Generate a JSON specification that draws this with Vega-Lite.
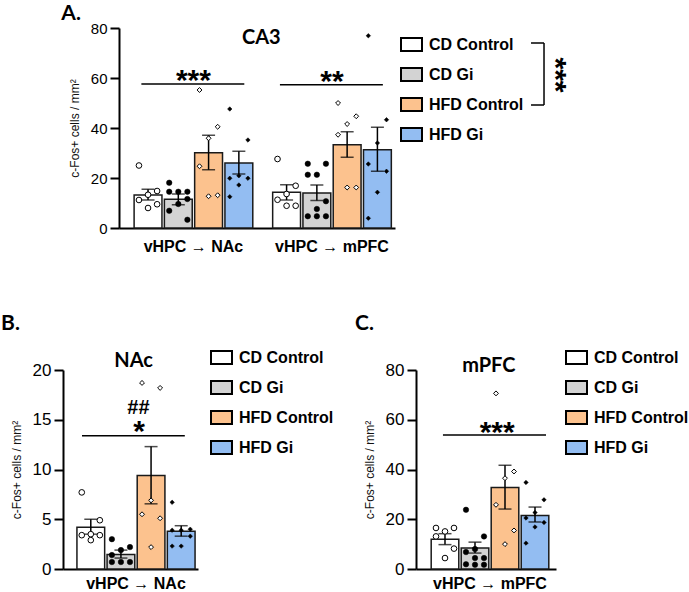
{
  "$schema": "https://vega.github.io/schema/vega-lite/v6.json",
  "padding": {"left": 1, "top": 3, "right": 0, "bottom": 0},
  "background": "white",
  "config": {
    "view": {"stroke": null},
    "font": "Liberation Sans",
    "axis": {"domainColor": "black", "domainWidth": 2, "tickColor": "black", "tickWidth": 2, "grid": false, "labelColor": "black", "titleColor": "#111111", "labelFont": "Liberation Sans", "titleFont": "Liberation Sans"},
    "axisY": {"tickSize": 9, "labelFontSize": 17, "labelPadding": 3, "titleFontSize": 12, "titleFontWeight": "normal", "titlePadding": 9},
    "axisX": {"ticks": false, "labelFontSize": 16, "labelFontWeight": "bold", "labelPadding": 8, "labelAngle": 0, "title": null},
    "legend": {"symbolType": "M-1,-0.62H1V0.62H-1Z", "symbolSize": 441, "symbolStrokeColor": "black", "symbolStrokeWidth": 2, "labelFont": "Liberation Sans", "labelFontSize": 16, "labelFontWeight": "bold", "labelColor": "black", "labelOffset": 6, "rowPadding": 7, "padding": 0},
    "title": {"font": "Lato", "fontSize": 21, "fontWeight": "bold", "anchor": "start", "frame": "bounds", "color": "black"}
  },
  "datasets": {
    "bars": [
      {"p": "A", "g": "vHPC → NAc", "c": "CD Control", "mean": 13.2, "lo": 11.2, "hi": 15.5},
      {"p": "A", "g": "vHPC → NAc", "c": "CD Gi", "mean": 11.5, "lo": 9.3, "hi": 13.6},
      {"p": "A", "g": "vHPC → NAc", "c": "HFD Control", "mean": 30.1, "lo": 23.3, "hi": 37.1},
      {"p": "A", "g": "vHPC → NAc", "c": "HFD Gi", "mean": 26.0, "lo": 21.6, "hi": 30.7},
      {"p": "A", "g": "vHPC → mPFC", "c": "CD Control", "mean": 14.3, "lo": 11.2, "hi": 17.3},
      {"p": "A", "g": "vHPC → mPFC", "c": "CD Gi", "mean": 14.0, "lo": 11.0, "hi": 17.2},
      {"p": "A", "g": "vHPC → mPFC", "c": "HFD Control", "mean": 33.3, "lo": 28.3, "hi": 38.5},
      {"p": "A", "g": "vHPC → mPFC", "c": "HFD Gi", "mean": 31.3, "lo": 22.7, "hi": 40.3},
      {"p": "B", "g": "vHPC → NAc", "c": "CD Control", "mean": 4.2, "lo": 3.5, "hi": 5.0},
      {"p": "B", "g": "vHPC → NAc", "c": "CD Gi", "mean": 1.45, "lo": 1.1, "hi": 1.9},
      {"p": "B", "g": "vHPC → NAc", "c": "HFD Control", "mean": 9.4, "lo": 6.55, "hi": 12.3},
      {"p": "B", "g": "vHPC → NAc", "c": "HFD Gi", "mean": 3.8, "lo": 3.3, "hi": 4.35},
      {"p": "C", "g": "vHPC → mPFC", "c": "CD Control", "mean": 12.0, "lo": 9.8, "hi": 14.2},
      {"p": "C", "g": "vHPC → mPFC", "c": "CD Gi", "mean": 8.4, "lo": 6.4, "hi": 10.8},
      {"p": "C", "g": "vHPC → mPFC", "c": "HFD Control", "mean": 32.8, "lo": 24.1, "hi": 41.7},
      {"p": "C", "g": "vHPC → mPFC", "c": "HFD Gi", "mean": 21.5, "lo": 18.9, "hi": 24.9}
    ],
    "points": [
      {"p": "A", "g": "vHPC → NAc", "c": "CD Control", "v": 25.0},
      {"p": "A", "g": "vHPC → NAc", "c": "CD Control", "v": 14.8},
      {"p": "A", "g": "vHPC → NAc", "c": "CD Control", "v": 13.3},
      {"p": "A", "g": "vHPC → NAc", "c": "CD Control", "v": 11.2},
      {"p": "A", "g": "vHPC → NAc", "c": "CD Control", "v": 9.5},
      {"p": "A", "g": "vHPC → NAc", "c": "CD Control", "v": 8.0},
      {"p": "A", "g": "vHPC → NAc", "c": "CD Gi", "v": 18.1},
      {"p": "A", "g": "vHPC → NAc", "c": "CD Gi", "v": 14.5},
      {"p": "A", "g": "vHPC → NAc", "c": "CD Gi", "v": 14.5},
      {"p": "A", "g": "vHPC → NAc", "c": "CD Gi", "v": 14.5},
      {"p": "A", "g": "vHPC → NAc", "c": "CD Gi", "v": 11.6},
      {"p": "A", "g": "vHPC → NAc", "c": "CD Gi", "v": 9.6},
      {"p": "A", "g": "vHPC → NAc", "c": "CD Gi", "v": 6.9},
      {"p": "A", "g": "vHPC → NAc", "c": "CD Gi", "v": 3.3},
      {"p": "A", "g": "vHPC → NAc", "c": "HFD Control", "v": 55.2},
      {"p": "A", "g": "vHPC → NAc", "c": "HFD Control", "v": 40.5},
      {"p": "A", "g": "vHPC → NAc", "c": "HFD Control", "v": 35.9},
      {"p": "A", "g": "vHPC → NAc", "c": "HFD Control", "v": 24.7},
      {"p": "A", "g": "vHPC → NAc", "c": "HFD Control", "v": 13.1},
      {"p": "A", "g": "vHPC → NAc", "c": "HFD Control", "v": 12.7},
      {"p": "A", "g": "vHPC → NAc", "c": "HFD Gi", "v": 47.6},
      {"p": "A", "g": "vHPC → NAc", "c": "HFD Gi", "v": 35.2},
      {"p": "A", "g": "vHPC → NAc", "c": "HFD Gi", "v": 20.9},
      {"p": "A", "g": "vHPC → NAc", "c": "HFD Gi", "v": 19.9},
      {"p": "A", "g": "vHPC → NAc", "c": "HFD Gi", "v": 19.9},
      {"p": "A", "g": "vHPC → NAc", "c": "HFD Gi", "v": 17.2},
      {"p": "A", "g": "vHPC → NAc", "c": "HFD Gi", "v": 12.5},
      {"p": "A", "g": "vHPC → mPFC", "c": "CD Control", "v": 27.6},
      {"p": "A", "g": "vHPC → mPFC", "c": "CD Control", "v": 16.9},
      {"p": "A", "g": "vHPC → mPFC", "c": "CD Control", "v": 13.6},
      {"p": "A", "g": "vHPC → mPFC", "c": "CD Control", "v": 11.3},
      {"p": "A", "g": "vHPC → mPFC", "c": "CD Control", "v": 8.9},
      {"p": "A", "g": "vHPC → mPFC", "c": "CD Control", "v": 8.9},
      {"p": "A", "g": "vHPC → mPFC", "c": "CD Gi", "v": 25.7},
      {"p": "A", "g": "vHPC → mPFC", "c": "CD Gi", "v": 25.7},
      {"p": "A", "g": "vHPC → mPFC", "c": "CD Gi", "v": 21.3},
      {"p": "A", "g": "vHPC → mPFC", "c": "CD Gi", "v": 21.3},
      {"p": "A", "g": "vHPC → mPFC", "c": "CD Gi", "v": 10.7},
      {"p": "A", "g": "vHPC → mPFC", "c": "CD Gi", "v": 7.6},
      {"p": "A", "g": "vHPC → mPFC", "c": "CD Gi", "v": 4.7},
      {"p": "A", "g": "vHPC → mPFC", "c": "CD Gi", "v": 4.7},
      {"p": "A", "g": "vHPC → mPFC", "c": "CD Gi", "v": 4.7},
      {"p": "A", "g": "vHPC → mPFC", "c": "HFD Control", "v": 50.0},
      {"p": "A", "g": "vHPC → mPFC", "c": "HFD Control", "v": 44.7},
      {"p": "A", "g": "vHPC → mPFC", "c": "HFD Control", "v": 41.6},
      {"p": "A", "g": "vHPC → mPFC", "c": "HFD Control", "v": 37.3},
      {"p": "A", "g": "vHPC → mPFC", "c": "HFD Control", "v": 16.2},
      {"p": "A", "g": "vHPC → mPFC", "c": "HFD Control", "v": 16.2},
      {"p": "A", "g": "vHPC → mPFC", "c": "HFD Gi", "v": 76.9},
      {"p": "A", "g": "vHPC → mPFC", "c": "HFD Gi", "v": 43.3},
      {"p": "A", "g": "vHPC → mPFC", "c": "HFD Gi", "v": 34.0},
      {"p": "A", "g": "vHPC → mPFC", "c": "HFD Gi", "v": 25.6},
      {"p": "A", "g": "vHPC → mPFC", "c": "HFD Gi", "v": 22.7},
      {"p": "A", "g": "vHPC → mPFC", "c": "HFD Gi", "v": 14.3},
      {"p": "A", "g": "vHPC → mPFC", "c": "HFD Gi", "v": 3.9},
      {"p": "B", "g": "vHPC → NAc", "c": "CD Control", "v": 7.7},
      {"p": "B", "g": "vHPC → NAc", "c": "CD Control", "v": 4.9},
      {"p": "B", "g": "vHPC → NAc", "c": "CD Control", "v": 3.5},
      {"p": "B", "g": "vHPC → NAc", "c": "CD Control", "v": 3.4},
      {"p": "B", "g": "vHPC → NAc", "c": "CD Control", "v": 3.4},
      {"p": "B", "g": "vHPC → NAc", "c": "CD Control", "v": 2.9},
      {"p": "B", "g": "vHPC → NAc", "c": "CD Gi", "v": 3.0},
      {"p": "B", "g": "vHPC → NAc", "c": "CD Gi", "v": 2.2},
      {"p": "B", "g": "vHPC → NAc", "c": "CD Gi", "v": 1.9},
      {"p": "B", "g": "vHPC → NAc", "c": "CD Gi", "v": 1.4},
      {"p": "B", "g": "vHPC → NAc", "c": "CD Gi", "v": 0.7},
      {"p": "B", "g": "vHPC → NAc", "c": "CD Gi", "v": 0.7},
      {"p": "B", "g": "vHPC → NAc", "c": "CD Gi", "v": 0.7},
      {"p": "B", "g": "vHPC → NAc", "c": "HFD Control", "v": 18.7},
      {"p": "B", "g": "vHPC → NAc", "c": "HFD Control", "v": 18.2},
      {"p": "B", "g": "vHPC → NAc", "c": "HFD Control", "v": 6.9},
      {"p": "B", "g": "vHPC → NAc", "c": "HFD Control", "v": 5.5},
      {"p": "B", "g": "vHPC → NAc", "c": "HFD Control", "v": 5.1},
      {"p": "B", "g": "vHPC → NAc", "c": "HFD Control", "v": 2.2},
      {"p": "B", "g": "vHPC → NAc", "c": "HFD Gi", "v": 6.7},
      {"p": "B", "g": "vHPC → NAc", "c": "HFD Gi", "v": 4.0},
      {"p": "B", "g": "vHPC → NAc", "c": "HFD Gi", "v": 3.9},
      {"p": "B", "g": "vHPC → NAc", "c": "HFD Gi", "v": 3.9},
      {"p": "B", "g": "vHPC → NAc", "c": "HFD Gi", "v": 3.3},
      {"p": "B", "g": "vHPC → NAc", "c": "HFD Gi", "v": 2.3},
      {"p": "B", "g": "vHPC → NAc", "c": "HFD Gi", "v": 2.3},
      {"p": "C", "g": "vHPC → mPFC", "c": "CD Control", "v": 16.5},
      {"p": "C", "g": "vHPC → mPFC", "c": "CD Control", "v": 16.5},
      {"p": "C", "g": "vHPC → mPFC", "c": "CD Control", "v": 15.1},
      {"p": "C", "g": "vHPC → mPFC", "c": "CD Control", "v": 13.1},
      {"p": "C", "g": "vHPC → mPFC", "c": "CD Control", "v": 8.2},
      {"p": "C", "g": "vHPC → mPFC", "c": "CD Control", "v": 4.4},
      {"p": "C", "g": "vHPC → mPFC", "c": "CD Gi", "v": 23.8},
      {"p": "C", "g": "vHPC → mPFC", "c": "CD Gi", "v": 13.1},
      {"p": "C", "g": "vHPC → mPFC", "c": "CD Gi", "v": 8.0},
      {"p": "C", "g": "vHPC → mPFC", "c": "CD Gi", "v": 6.8},
      {"p": "C", "g": "vHPC → mPFC", "c": "CD Gi", "v": 4.4},
      {"p": "C", "g": "vHPC → mPFC", "c": "CD Gi", "v": 4.4},
      {"p": "C", "g": "vHPC → mPFC", "c": "CD Gi", "v": 1.9},
      {"p": "C", "g": "vHPC → mPFC", "c": "CD Gi", "v": 1.7},
      {"p": "C", "g": "vHPC → mPFC", "c": "CD Gi", "v": 1.7},
      {"p": "C", "g": "vHPC → mPFC", "c": "HFD Control", "v": 70.6},
      {"p": "C", "g": "vHPC → mPFC", "c": "HFD Control", "v": 39.2},
      {"p": "C", "g": "vHPC → mPFC", "c": "HFD Control", "v": 36.5},
      {"p": "C", "g": "vHPC → mPFC", "c": "HFD Control", "v": 25.8},
      {"p": "C", "g": "vHPC → mPFC", "c": "HFD Control", "v": 15.5},
      {"p": "C", "g": "vHPC → mPFC", "c": "HFD Control", "v": 10.0},
      {"p": "C", "g": "vHPC → mPFC", "c": "HFD Gi", "v": 34.8},
      {"p": "C", "g": "vHPC → mPFC", "c": "HFD Gi", "v": 27.8},
      {"p": "C", "g": "vHPC → mPFC", "c": "HFD Gi", "v": 22.7},
      {"p": "C", "g": "vHPC → mPFC", "c": "HFD Gi", "v": 20.5},
      {"p": "C", "g": "vHPC → mPFC", "c": "HFD Gi", "v": 18.7},
      {"p": "C", "g": "vHPC → mPFC", "c": "HFD Gi", "v": 16.9},
      {"p": "C", "g": "vHPC → mPFC", "c": "HFD Gi", "v": 10.4}
    ],
    "lines": [
      {"p": "A", "g": "vHPC → NAc", "y": 57.6},
      {"p": "A", "g": "vHPC → mPFC", "y": 57.3},
      {"p": "B", "g": "vHPC → NAc", "y": 13.4},
      {"p": "C", "g": "vHPC → mPFC", "y": 53.9}
    ],
    "stars": [
      {"p": "A", "g": "vHPC → NAc", "y": 62.0, "t": "***"},
      {"p": "A", "g": "vHPC → mPFC", "y": 61.6, "t": "**"},
      {"p": "B", "g": "vHPC → NAc", "y": 14.6, "t": "*"},
      {"p": "C", "g": "vHPC → mPFC", "y": 57.9, "t": "***"}
    ],
    "hashes": [
      {"p": "B", "g": "vHPC → NAc", "y": 16.3, "t": "##"}
    ],
    "heads": [
      {"p": "A", "g": "vHPC → NAc", "y": 76.4, "t": "CA3"},
      {"p": "B", "g": "vHPC → NAc", "y": 21.0, "t": "NAc"},
      {"p": "C", "g": "vHPC → mPFC", "y": 82.0, "t": "mPFC"}
    ],
    "bracket": [
      {"x": 1.4928, "x2": 1.5399, "y": 74.0, "y2": 74.0},
      {"x": 1.4928, "x2": 1.5399, "y": 49.2, "y2": 49.2},
      {"x": 1.5399, "x2": 1.5399, "y": 74.0, "y2": 49.2}
    ],
    "bracketText": [
      {"x": 1.61, "y": 61.2, "t": "***"}
    ]
  },
  "resolve": {"scale": {"fill": "independent", "xOffset": "independent"}, "legend": {"fill": "independent"}},
  "spacing": 59,
  "vconcat": [
    {
      "bounds": "flush",
      "spacing": 20,
      "resolve": {"scale": {"fill": "independent", "xOffset": "independent"}, "legend": {"fill": "independent"}},
      "hconcat": [
        {"width": 36, "height": 200, "data": {"values": []}, "mark": "point", "encoding": {}},
        {
          "title": {"text": "A.", "offset": -3, "dx": -7},
          "width": 276,
          "height": 200,
          "resolve": {"scale": {"x": "independent"}, "axis": {"x": "independent"}},
          "layer": [
            {
              "resolve": {"scale": {"xOffset": "independent"}},
              "layer": [
                {
                  "data": {"name": "bars"},
                  "transform": [{"filter": "datum.p === 'A'"}],
                  "encoding": {
                    "x": {"field": "g", "type": "nominal", "title": null, "scale": {"domain": ["vHPC → NAc", "vHPC → mPFC"], "paddingInner": 0.126, "paddingOuter": 0.059, "align": 0.85}, "axis": {"labelPadding": 10}},
                    "xOffset": {"field": "c", "type": "nominal", "scale": {"domain": ["CD Control", "CD Gi", "HFD Control", "HFD Gi"], "paddingInner": 0.08, "paddingOuter": 0.04}}
                  },
                  "layer": [
                    {
                      "mark": {"type": "bar", "stroke": "#1a1a1a", "strokeWidth": 1.5},
                      "encoding": {
                        "y": {"field": "mean", "type": "quantitative", "title": "c-Fos+ cells / mm²", "scale": {"domain": [0, 80], "nice": false}, "axis": {"values": [0, 20, 40, 60, 80], "labelFontSize": 15}},
                        "fill": {"field": "c", "type": "nominal", "scale": {"domain": ["CD Control", "CD Gi", "HFD Control", "HFD Gi"], "range": ["#ffffff", "#d3d3d3", "#fcc28e", "#93bdf2"]}, "legend": {"title": null, "orient": "none", "legendX": 281, "legendY": 5}}
                      }
                    },
                    {
                      "mark": {"type": "rule", "strokeWidth": 1.5, "color": "black"},
                      "encoding": {"y": {"field": "lo", "type": "quantitative"}, "y2": {"field": "hi"}}
                    },
                    {
                      "transform": [{"fold": ["lo", "hi"], "as": ["k", "e"]}],
                      "mark": {"type": "tick", "thickness": 1.5, "size": 13, "color": "black"},
                      "encoding": {"y": {"field": "e", "type": "quantitative"}}
                    }
                  ]
                },
                {
                  "data": {"name": "points"},
                  "transform": [
                    {"filter": "datum.p === 'A'"},
                    {"window": [{"op": "row_number", "as": "r"}], "groupby": ["g", "c"], "sort": [{"field": "v", "order": "descending"}]},
                    {"calculate": "indexof(['CD Control','CD Gi','HFD Control','HFD Gi'], datum.c) + [0, -0.3, 0.3][datum.r % 3]", "as": "o"}
                  ],
                  "encoding": {
                    "x": {"field": "g", "type": "nominal"},
                    "xOffset": {"field": "o", "type": "quantitative", "scale": {"domain": [-0.5, 3.5], "nice": false, "zero": false}},
                    "y": {"field": "v", "type": "quantitative"}
                  },
                  "layer": [
                    {"transform": [{"filter": "datum.c === 'CD Control'"}], "mark": {"type": "point", "shape": "circle", "filled": true, "fill": "white", "stroke": "black", "strokeWidth": 1, "size": 32, "opacity": 1}},
                    {"transform": [{"filter": "datum.c === 'CD Gi'"}], "mark": {"type": "point", "shape": "circle", "filled": true, "fill": "black", "stroke": "black", "strokeWidth": 0.5, "size": 30, "opacity": 1}},
                    {"transform": [{"filter": "datum.c === 'HFD Control'"}], "mark": {"type": "point", "shape": "diamond", "filled": true, "fill": "white", "stroke": "black", "strokeWidth": 1, "size": 24, "opacity": 1}},
                    {"transform": [{"filter": "datum.c === 'HFD Gi'"}], "mark": {"type": "point", "shape": "diamond", "filled": true, "fill": "black", "stroke": "black", "strokeWidth": 0.5, "size": 20, "opacity": 1}}
                  ]
                },
                {
                  "data": {"name": "lines"},
                  "transform": [{"filter": "datum.p === 'A'"}],
                  "mark": {"type": "rule", "strokeWidth": 1.5, "color": "black"},
                  "encoding": {
                    "x": {"field": "g", "type": "nominal", "bandPosition": 0.07},
                    "x2": {"field": "g", "bandPosition": 0.92},
                    "y": {"field": "y", "type": "quantitative"}
                  }
                },
                {
                  "data": {"name": "stars"},
                  "transform": [{"filter": "datum.p === 'A'"}],
                  "mark": {"type": "text", "font": "Liberation Sans", "fontSize": 30, "fontWeight": "bold", "align": "center", "baseline": "alphabetic", "dy": 17, "color": "black"},
                  "encoding": {
                    "x": {"field": "g", "type": "nominal", "bandPosition": 0.5},
                    "y": {"field": "y", "type": "quantitative"},
                    "text": {"field": "t"}
                  }
                },
                {
                  "data": {"name": "heads"},
                  "transform": [{"filter": "datum.p === 'A'"}],
                  "mark": {"type": "text", "font": "Lato", "fontSize": 20, "fontWeight": "bold", "align": "center", "baseline": "alphabetic", "dy": 7, "color": "black"},
                  "encoding": {
                    "x": {"field": "g", "type": "nominal", "bandPosition": 1.06},
                    "y": {"field": "y", "type": "quantitative"},
                    "text": {"field": "t"}
                  }
                }
              ]
            },
            {
              "layer": [
                {
                  "data": {"name": "bracket"},
                  "mark": {"type": "rule", "strokeWidth": 1.5, "color": "black"},
                  "encoding": {
                    "x": {"field": "x", "type": "quantitative", "scale": {"domain": [0, 1], "nice": false, "zero": false}, "axis": null},
                    "x2": {"field": "x2"},
                    "y": {"field": "y", "type": "quantitative"},
                    "y2": {"field": "y2"}
                  }
                },
                {
                  "data": {"name": "bracketText"},
                  "mark": {"type": "text", "font": "Liberation Sans", "fontSize": 30, "fontWeight": "bold", "align": "center", "baseline": "alphabetic", "dy": 17, "angle": 90, "color": "black"},
                  "encoding": {
                    "x": {"field": "x", "type": "quantitative"},
                    "y": {"field": "y", "type": "quantitative"},
                    "text": {"field": "t"}
                  }
                }
              ]
            }
          ]
        }
      ]
    },
    {
      "bounds": "flush",
      "spacing": 218,
      "resolve": {"scale": {"fill": "independent", "xOffset": "independent"}, "legend": {"fill": "independent"}},
      "hconcat": [
        {
          "title": {"text": "B.", "offset": 12, "dx": -9},
          "width": 135,
          "height": 199,
          "resolve": {"scale": {"xOffset": "independent"}},
          "layer": [
            {
              "data": {"name": "bars"},
              "transform": [{"filter": "datum.p === 'B'"}],
              "encoding": {
                "x": {"field": "g", "type": "nominal", "title": null, "scale": {"domain": ["vHPC → NAc"], "paddingInner": 0, "paddingOuter": 0.06, "align": 0.88}, "axis": {"labelPadding": 6}},
                "xOffset": {"field": "c", "type": "nominal", "scale": {"domain": ["CD Control", "CD Gi", "HFD Control", "HFD Gi"], "paddingInner": 0.08, "paddingOuter": 0.04}}
              },
              "layer": [
                {
                  "mark": {"type": "bar", "stroke": "#1a1a1a", "strokeWidth": 1.5},
                  "encoding": {
                    "y": {"field": "mean", "type": "quantitative", "title": "c-Fos+ cells / mm²", "scale": {"domain": [0, 20], "nice": false}, "axis": {"values": [0, 5, 10, 15, 20]}},
                    "fill": {"field": "c", "type": "nominal", "scale": {"domain": ["CD Control", "CD Gi", "HFD Control", "HFD Gi"], "range": ["#ffffff", "#d3d3d3", "#fcc28e", "#93bdf2"]}, "legend": {"title": null, "orient": "none", "legendX": 147, "legendY": -24}}
                  }
                },
                {
                  "mark": {"type": "rule", "strokeWidth": 1.5, "color": "black"},
                  "encoding": {"y": {"field": "lo", "type": "quantitative"}, "y2": {"field": "hi"}}
                },
                {
                  "transform": [{"fold": ["lo", "hi"], "as": ["k", "e"]}],
                  "mark": {"type": "tick", "thickness": 1.5, "size": 13, "color": "black"},
                  "encoding": {"y": {"field": "e", "type": "quantitative"}}
                }
              ]
            },
            {
              "data": {"name": "points"},
              "transform": [
                {"filter": "datum.p === 'B'"},
                {"window": [{"op": "row_number", "as": "r"}], "groupby": ["g", "c"], "sort": [{"field": "v", "order": "descending"}]},
                {"calculate": "indexof(['CD Control','CD Gi','HFD Control','HFD Gi'], datum.c) + [0, -0.3, 0.3][datum.r % 3]", "as": "o"}
              ],
              "encoding": {
                "x": {"field": "g", "type": "nominal"},
                "xOffset": {"field": "o", "type": "quantitative", "scale": {"domain": [-0.5, 3.5], "nice": false, "zero": false}},
                "y": {"field": "v", "type": "quantitative"}
              },
              "layer": [
                {"transform": [{"filter": "datum.c === 'CD Control'"}], "mark": {"type": "point", "shape": "circle", "filled": true, "fill": "white", "stroke": "black", "strokeWidth": 1, "size": 32, "opacity": 1}},
                {"transform": [{"filter": "datum.c === 'CD Gi'"}], "mark": {"type": "point", "shape": "circle", "filled": true, "fill": "black", "stroke": "black", "strokeWidth": 0.5, "size": 30, "opacity": 1}},
                {"transform": [{"filter": "datum.c === 'HFD Control'"}], "mark": {"type": "point", "shape": "diamond", "filled": true, "fill": "white", "stroke": "black", "strokeWidth": 1, "size": 24, "opacity": 1}},
                {"transform": [{"filter": "datum.c === 'HFD Gi'"}], "mark": {"type": "point", "shape": "diamond", "filled": true, "fill": "black", "stroke": "black", "strokeWidth": 0.5, "size": 20, "opacity": 1}}
              ]
            },
            {
              "data": {"name": "lines"},
              "transform": [{"filter": "datum.p === 'B'"}],
              "mark": {"type": "rule", "strokeWidth": 1.5, "color": "black"},
              "encoding": {
                "x": {"field": "g", "type": "nominal", "bandPosition": 0.052},
                "x2": {"field": "g", "bandPosition": 0.905},
                "y": {"field": "y", "type": "quantitative"}
              }
            },
            {
              "data": {"name": "stars"},
              "transform": [{"filter": "datum.p === 'B'"}],
              "mark": {"type": "text", "font": "Liberation Sans", "fontSize": 30, "fontWeight": "bold", "align": "center", "baseline": "alphabetic", "dy": 17, "color": "black"},
              "encoding": {
                "x": {"field": "g", "type": "nominal", "bandPosition": 0.525},
                "y": {"field": "y", "type": "quantitative"},
                "text": {"field": "t"}
              }
            },
            {
              "data": {"name": "hashes"},
              "transform": [{"filter": "datum.p === 'B'"}],
              "mark": {"type": "text", "font": "Liberation Sans", "fontSize": 20, "fontWeight": "bold", "align": "center", "baseline": "alphabetic", "dy": 7, "color": "black"},
              "encoding": {
                "x": {"field": "g", "type": "nominal", "bandPosition": 0.52},
                "y": {"field": "y", "type": "quantitative"},
                "text": {"field": "t"}
              }
            },
            {
              "data": {"name": "heads"},
              "transform": [{"filter": "datum.p === 'B'"}],
              "mark": {"type": "text", "font": "Lato", "fontSize": 20, "fontWeight": "bold", "align": "center", "baseline": "alphabetic", "dy": 7, "color": "black"},
              "encoding": {
                "x": {"field": "g", "type": "nominal", "bandPosition": 0.48},
                "y": {"field": "y", "type": "quantitative"},
                "text": {"field": "t"}
              }
            }
          ]
        },
        {
          "title": {"text": "C.", "offset": 12, "dx": -8},
          "width": 140,
          "height": 199,
          "resolve": {"scale": {"xOffset": "independent"}},
          "layer": [
            {
              "data": {"name": "bars"},
              "transform": [{"filter": "datum.p === 'C'"}],
              "encoding": {
                "x": {"field": "g", "type": "nominal", "title": null, "scale": {"domain": ["vHPC → mPFC"], "paddingInner": 0, "paddingOuter": 0.0833, "align": 0.7}, "axis": {"labelPadding": 6}},
                "xOffset": {"field": "c", "type": "nominal", "scale": {"domain": ["CD Control", "CD Gi", "HFD Control", "HFD Gi"], "paddingInner": 0.08, "paddingOuter": 0.04}}
              },
              "layer": [
                {
                  "mark": {"type": "bar", "stroke": "#1a1a1a", "strokeWidth": 1.5},
                  "encoding": {
                    "y": {"field": "mean", "type": "quantitative", "title": "c-Fos+ cells / mm²", "scale": {"domain": [0, 80], "nice": false}, "axis": {"values": [0, 20, 40, 60, 80]}},
                    "fill": {"field": "c", "type": "nominal", "scale": {"domain": ["CD Control", "CD Gi", "HFD Control", "HFD Gi"], "range": ["#ffffff", "#d3d3d3", "#fcc28e", "#93bdf2"]}, "legend": {"title": null, "orient": "none", "legendX": 149, "legendY": -24}}
                  }
                },
                {
                  "mark": {"type": "rule", "strokeWidth": 1.5, "color": "black"},
                  "encoding": {"y": {"field": "lo", "type": "quantitative"}, "y2": {"field": "hi"}}
                },
                {
                  "transform": [{"fold": ["lo", "hi"], "as": ["k", "e"]}],
                  "mark": {"type": "tick", "thickness": 1.5, "size": 13, "color": "black"},
                  "encoding": {"y": {"field": "e", "type": "quantitative"}}
                }
              ]
            },
            {
              "data": {"name": "points"},
              "transform": [
                {"filter": "datum.p === 'C'"},
                {"window": [{"op": "row_number", "as": "r"}], "groupby": ["g", "c"], "sort": [{"field": "v", "order": "descending"}]},
                {"calculate": "indexof(['CD Control','CD Gi','HFD Control','HFD Gi'], datum.c) + [0, -0.3, 0.3][datum.r % 3]", "as": "o"}
              ],
              "encoding": {
                "x": {"field": "g", "type": "nominal"},
                "xOffset": {"field": "o", "type": "quantitative", "scale": {"domain": [-0.5, 3.5], "nice": false, "zero": false}},
                "y": {"field": "v", "type": "quantitative"}
              },
              "layer": [
                {"transform": [{"filter": "datum.c === 'CD Control'"}], "mark": {"type": "point", "shape": "circle", "filled": true, "fill": "white", "stroke": "black", "strokeWidth": 1, "size": 32, "opacity": 1}},
                {"transform": [{"filter": "datum.c === 'CD Gi'"}], "mark": {"type": "point", "shape": "circle", "filled": true, "fill": "black", "stroke": "black", "strokeWidth": 0.5, "size": 30, "opacity": 1}},
                {"transform": [{"filter": "datum.c === 'HFD Control'"}], "mark": {"type": "point", "shape": "diamond", "filled": true, "fill": "white", "stroke": "black", "strokeWidth": 1, "size": 24, "opacity": 1}},
                {"transform": [{"filter": "datum.c === 'HFD Gi'"}], "mark": {"type": "point", "shape": "diamond", "filled": true, "fill": "black", "stroke": "black", "strokeWidth": 0.5, "size": 20, "opacity": 1}}
              ]
            },
            {
              "data": {"name": "lines"},
              "transform": [{"filter": "datum.p === 'C'"}],
              "mark": {"type": "rule", "strokeWidth": 1.5, "color": "black"},
              "encoding": {
                "x": {"field": "g", "type": "nominal", "bandPosition": 0.108},
                "x2": {"field": "g", "bandPosition": 0.967},
                "y": {"field": "y", "type": "quantitative"}
              }
            },
            {
              "data": {"name": "stars"},
              "transform": [{"filter": "datum.p === 'C'"}],
              "mark": {"type": "text", "font": "Liberation Sans", "fontSize": 30, "fontWeight": "bold", "align": "center", "baseline": "alphabetic", "dy": 17, "color": "black"},
              "encoding": {
                "x": {"field": "g", "type": "nominal", "bandPosition": 0.56},
                "y": {"field": "y", "type": "quantitative"},
                "text": {"field": "t"}
              }
            },
            {
              "data": {"name": "heads"},
              "transform": [{"filter": "datum.p === 'C'"}],
              "mark": {"type": "text", "font": "Lato", "fontSize": 20, "fontWeight": "bold", "align": "center", "baseline": "alphabetic", "dy": 7, "color": "black"},
              "encoding": {
                "x": {"field": "g", "type": "nominal", "bandPosition": 0.49},
                "y": {"field": "y", "type": "quantitative"},
                "text": {"field": "t"}
              }
            }
          ]
        }
      ]
    }
  ]
}
